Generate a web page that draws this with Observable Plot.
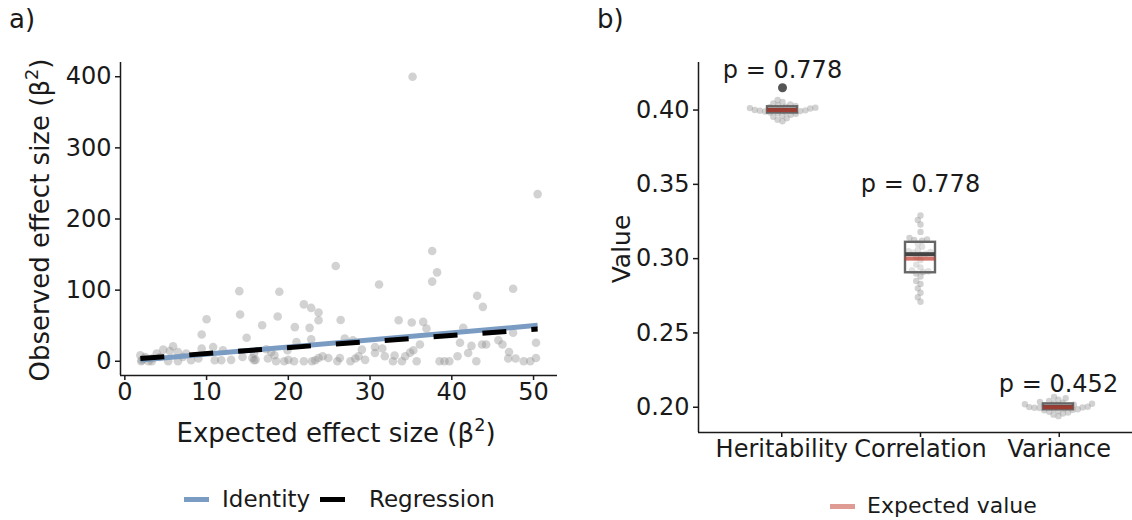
<!DOCTYPE html>
<html><head><meta charset="utf-8">
<script src="https://cdn.jsdelivr.net/npm/d3@7"></script>
<script src="https://cdn.jsdelivr.net/npm/@observablehq/plot@0.6"></script>
<style>
html,body{margin:0;padding:0;background:#fff;overflow:hidden;}
#root{position:relative;width:1132px;height:520px;overflow:hidden;font-family:"DejaVu Sans",sans-serif;color:#1a1a1a;}
#root svg{position:absolute;left:0;top:0;max-width:none;}
.lbl{position:absolute;white-space:nowrap;line-height:1;}
.lbl sup{font-size:0.68em;vertical-align:0.62em;line-height:0;}
.sw{position:absolute;height:5px;}
</style></head><body><div id="root"></div>
<script>
// ---------- panel a) data ----------
const expected = [35.2,50.5,14.0,18.9,14.1,18.7,10.0,9.4,14.9,16.8,20.8,21.9,22.8,23.7,23.7,22.6,22.8,21.0,25.8,26.4,26.9,27.9,31.1,33.5,35.1,36.5,36.9,37.6,38.2,37.6,41.4,41.0,43.1,43.8,47.5,47.5,50.3,50.3,45.7,46.2,43.7,44.2,42.4,42.0,43.0,40.7,39.7,39.1,38.5,36.1,35.3,34.9,34.3,33.9,35.7,32.8,31.8,30.6,30.6,29.0,28.6,28.2,27.6,26.3,26.0,24.9,23.7,23.3,22.9,21.9,20.7,19.5,18.5,17.5,18.3,17.9,15.8,15.6,14.4,15.8,17.3,19.9,12.0,11.8,11.0,10.8,9.4,9.0,8.1,7.5,7.1,6.5,5.9,5.5,4.7,4.3,3.9,5.3,6.5,3.3,2.9,2.5,2.1,1.9,2.0,2.3,3.3,48.8,47.8,47.0,46.9,49.6,13.0,16.0,20.0,24.2,29.4,31.5,33.0];
const observed = [400,235,98.6,97.7,65.7,62.9,59,37.6,33,50.7,48,80,75,68.5,57.7,47,31,27,134,58,32,29.6,108,57.7,54.5,55.4,46,155,125,112,47,26,92,76.5,102,40,26,4.7,29.6,23.5,23.5,23.5,21.6,11.7,0,7,0,0,0,23.5,15.5,12.2,7,0,0,0,7,11.7,20,16.4,7,3.8,0,4.7,0,4.7,4.7,1.4,0,0,0,0,0,3.8,8.5,13,1.4,4.7,6,10.8,17,15.5,15.5,1.4,1.4,20,17.8,3.8,1.4,10.8,6,13,21,14.5,16.4,6,10.8,0,0,3.8,0,6,1.4,8.5,0,3.8,0,0,3.8,13,3.8,0,2,2,2,7,2,18,8];
const regression = {intercept: 2.3, slope: 0.85};
const xTicksA = [0,10,20,30,40,50];
const yTicksA = [0,100,200,300,400];

// ---------- panel b) data ----------
const params = ["Heritability","Correlation","Variance"];
const heritability = [0.3925,0.3935,0.3945,0.3955,0.3962,0.3968,0.3975,0.3979,0.3983,0.3987,0.3990,0.3993,0.3996,0.3998,0.4000,0.4002,0.4004,0.4007,0.4010,0.4013,0.4016,0.4019,0.4023,0.4027,0.4032,0.4038,0.4045,0.4055,0.4068,0.4150];
const correlation = [0.271,0.274,0.277,0.280,0.283,0.285,0.288,0.290,0.291,0.2915,0.292,0.294,0.296,0.299,0.301,0.303,0.3033,0.304,0.3045,0.305,0.306,0.308,0.310,0.312,0.3125,0.313,0.314,0.318,0.323,0.326,0.329];
const variance = [0.1940,0.1950,0.1958,0.1965,0.1970,0.1975,0.1979,0.1982,0.1986,0.1989,0.1992,0.1995,0.1997,0.1999,0.2001,0.2003,0.2005,0.2008,0.2011,0.2014,0.2017,0.2020,0.2023,0.2027,0.2031,0.2036,0.2042,0.2050,0.2060,0.2070];
const expectedValues = [0.40,0.30,0.20];
const pLabels = ["p = 0.778","p = 0.778","p = 0.452"];
const pLabelY = [0.427,0.350,0.2155];
const yTicksB = [0.20,0.25,0.30,0.35,0.40];
const yDomainB = [0.183,0.432];

// ---------- derived tables ----------
const scatter = expected.map((x,i)=>({x, y: observed[i]}));
const [xmin,xmax] = d3.extent(expected);
const [ymin,ymax] = d3.extent(observed);
const xDomA = [xmin-0.05*(xmax-xmin), xmax+0.05*(xmax-xmin)];
const yDomA = [ymin-0.05*(ymax-ymin), ymax+0.05*(ymax-ymin)];
const identity = [xmin,xmax].map(x=>({x, y:x}));
const regLine = [xmin,xmax].map(x=>({x, y: regression.intercept + regression.slope*x}));

const groups = [heritability, correlation, variance];
const points = groups.flatMap((vals,g)=>vals.map(v=>({cat: params[g], value: v})));
const summary = groups.map((vals,g)=>{
  const s = vals.slice().sort(d3.ascending);
  const q1 = d3.quantile(s,0.25), med = d3.quantile(s,0.5), q3 = d3.quantile(s,0.75);
  const iqr = q3-q1;
  const inside = s.filter(v=>v>=q1-1.5*iqr-1e-9 && v<=q3+1.5*iqr+1e-9);
  return {cat: params[g], q1, med, q3, lo: d3.min(inside), hi: d3.max(inside),
          out: s.filter(v=>!inside.includes(v))};
});
const outliers = summary.flatMap(d=>d.out.map(v=>({cat:d.cat, value:v})));
const expectedTable = params.map((c,i)=>({cat:c, value: expectedValues[i]}));
const pTable = params.map((c,i)=>({cat:c, y:pLabelY[i], text:pLabels[i]}));

const root = document.getElementById("root");
const axisColor = "#1a1a1a";
const baseStyle = {fontFamily:"DejaVu Sans", fontSize:"24px", background:"transparent", color:axisColor, overflow:"visible"};

// ---------- panel a) ----------
const left = Plot.plot({
  width: 580, height: 410, marginLeft: 120, marginRight: 23, marginTop: 62, marginBottom: 35,
  style: baseStyle,
  x: {domain: xDomA},
  y: {domain: yDomA},
  marks: [
    Plot.dot(scatter, {x:"x", y:"y", r:4.3, fill:"#8f8f8f", fillOpacity:0.4}),
    Plot.line(identity, {x:"x", y:"y", stroke:"#7b9cc2", strokeWidth:5, strokeLinecap:"butt"}),
    Plot.line(regLine, {x:"x", y:"y", stroke:"#000", strokeWidth:5, strokeDasharray:"24,25", strokeLinecap:"butt"}),
    Plot.ruleX([xDomA[0]], {stroke:axisColor, strokeWidth:1.5}),
    Plot.ruleY([yDomA[0]], {stroke:axisColor, strokeWidth:1.5}),
    Plot.axisX({ticks: xTicksA, tickSize:5, tickPadding:2, strokeWidth:1.5, label:null}),
    Plot.axisY({ticks: yTicksA, tickSize:5, tickPadding:4, strokeWidth:1.5, label:null})
  ]
});
root.appendChild(left);

// ---------- panel b) axes ----------
const padL = 0.6, padR = 0.6, boxFrac = 0.216;
const W_B = 1142, ML_B = 698;
const rightAxes = Plot.plot({
  width: W_B, height: 470, marginLeft: ML_B, marginRight: 0, marginTop: 62, marginBottom: 38,
  style: baseStyle,
  x: {type:"linear", domain:[1-padL, params.length+padR]},
  y: {domain: yDomainB},
  marks: [
    Plot.ruleX([1-padL], {stroke:axisColor, strokeWidth:1.5}),
    Plot.ruleY([yDomainB[0]], {stroke:axisColor, strokeWidth:1.5}),
    Plot.axisX({ticks: params.map((c,i)=>i+1), tickFormat: d=>params[d-1], tickSize:5, tickPadding:2, strokeWidth:1.5, label:null}),
    Plot.axisY({ticks: yTicksB, tickFormat: d3.format(".2f"), tickSize:5, tickPadding:4, strokeWidth:1.5, label:null})
  ]
});
root.appendChild(rightAxes);

// ---------- panel b) boxes & points (faceted) ----------
const n = params.length;
const pInner = 1 - boxFrac;
const totalSteps = n - 1 + padL + padR;
const pOuter = (totalSteps - n + pInner)/2;
const align = (padL - boxFrac/2)/(2*pOuter);
const rightMarks = Plot.plot({
  width: W_B, height: 470, marginLeft: ML_B, marginRight: 0, marginTop: 62, marginBottom: 38,
  style: baseStyle,
  fx: {domain: params, paddingInner: pInner, paddingOuter: pOuter, align, axis: null, label: null},
  y: {domain: yDomainB, axis: null},
  marks: [
    // swarm laid out with a small collision radius; the wide stroke gives the visible dot size
    Plot.dot(points, Plot.dodgeX({anchor:"middle", padding:2}, {fx:"cat", y:"value", r:1.6, fill:"none", stroke:"#8f8f8f", strokeWidth:3.2, strokeOpacity:0.4})),
    Plot.ruleX(summary, {fx:"cat", y1:"lo", y2:"q1", stroke:"#444", strokeWidth:2}),
    Plot.ruleX(summary, {fx:"cat", y1:"q3", y2:"hi", stroke:"#444", strokeWidth:2}),
    Plot.barY(summary, {fx:"cat", y1:"q1", y2:"q3", fill:"white", fillOpacity:0.35, stroke:"#666", strokeWidth:2.4}),
    Plot.tickY(summary, {fx:"cat", y:"med", stroke:"#444", strokeWidth:4}),
    Plot.tickY(expectedTable, {fx:"cat", y:"value", stroke:"#c0392b", strokeOpacity:0.7, strokeWidth:4}),
    Plot.dot(outliers, {fx:"cat", y:"value", r:4.5, fill:"#555"}),
    Plot.text(pTable, {fx:"cat", y:"y", text:"text", fontSize:24, fill:axisColor, lineAnchor:"middle"})
  ]
});
root.appendChild(rightMarks);

// ---------- html text & legends ----------
function addLabel(html, css){
  const d = document.createElement("div");
  d.className = "lbl"; d.innerHTML = html;
  Object.assign(d.style, css);
  root.appendChild(d); return d;
}
addLabel("a)", {left:"9px", top:"6px", fontSize:"26px"});
addLabel("b)", {left:"597px", top:"6px", fontSize:"26px"});
addLabel("Expected effect size (β<sup>2</sup>)", {left:"336px", top:"433px", fontSize:"26px", transform:"translate(-50%,-50%)"});
addLabel("Observed effect size (β<sup>2</sup>)", {left:"40px", top:"220px", fontSize:"26px", transform:"translate(-50%,-50%) rotate(-90deg)"});
addLabel("Value", {left:"621px", top:"249px", fontSize:"25px", transform:"translate(-50%,-50%) rotate(-90deg)"});

function swatch(x, y, w, color, op){
  const d = document.createElement("div");
  d.className = "sw";
  Object.assign(d.style, {left:x+"px", top:(y-2.5)+"px", width:w+"px", background:color, opacity:op});
  root.appendChild(d);
}
swatch(184, 499, 25, "#7b9cc2", 1);
addLabel("Identity", {left:"222px", top:"499px", fontSize:"23px", transform:"translateY(-50%)"});
swatch(320, 499, 25, "#000", 1);
addLabel("Regression", {left:"369px", top:"499px", fontSize:"23px", transform:"translateY(-50%)"});
swatch(830, 506, 25, "#c0392b", 0.5);
addLabel("Expected value", {left:"867px", top:"506px", fontSize:"22px", transform:"translateY(-50%)"});
</script></body></html>
